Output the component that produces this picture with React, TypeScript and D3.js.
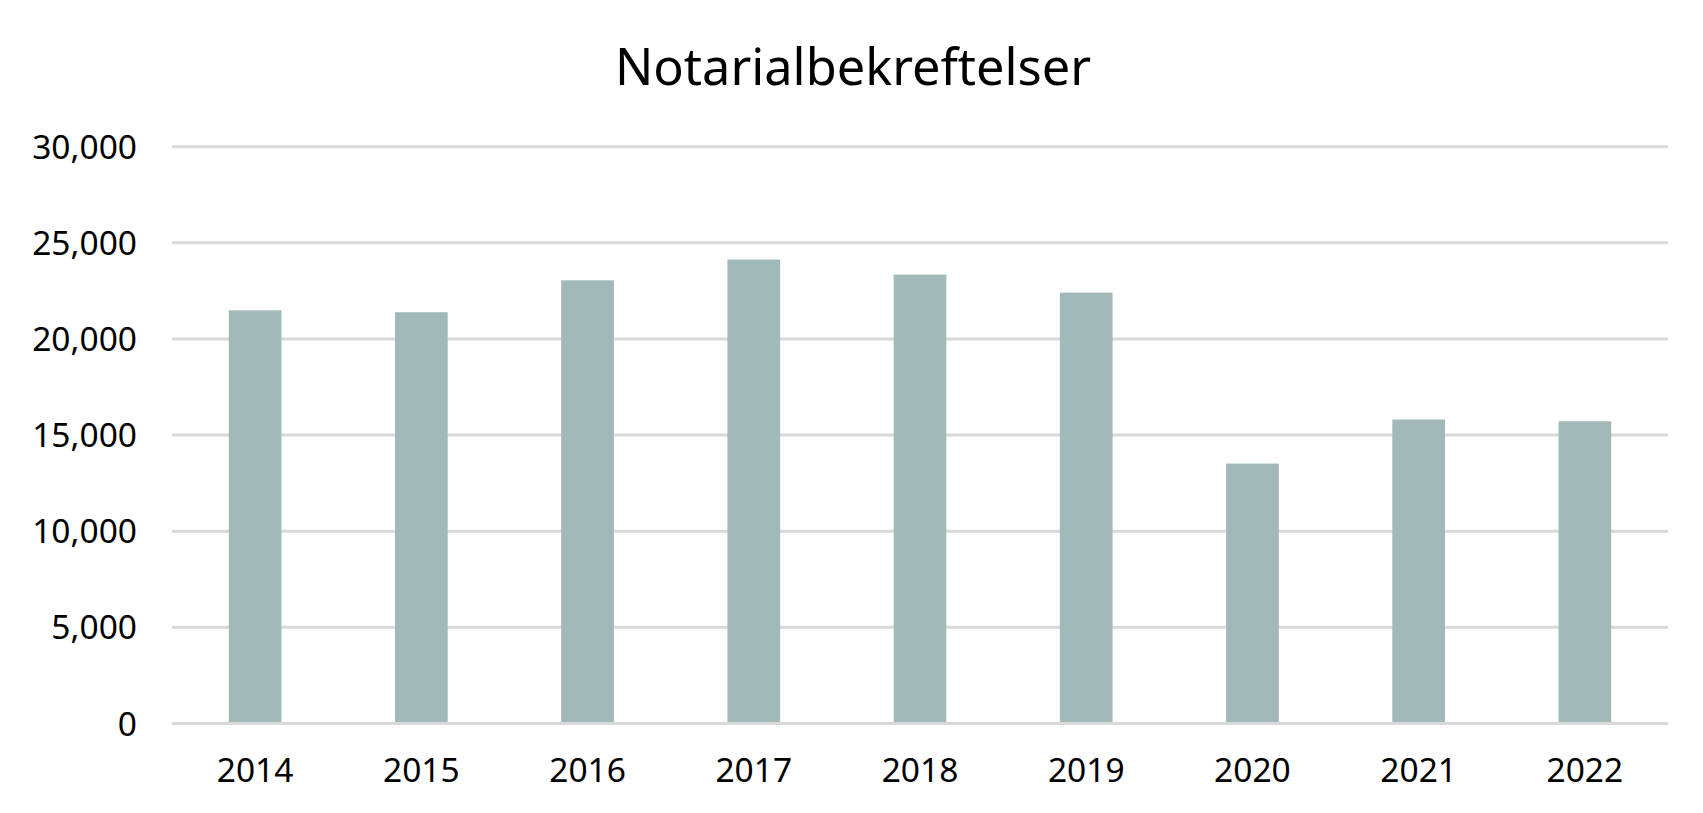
import React from "react";
import * as d3 from "d3";

const title = "Notarialbekreftelser";
const years = ["2014", "2015", "2016", "2017", "2018", "2019", "2020", "2021", "2022"];
const values = [21490, 21390, 23050, 24130, 23350, 22410, 13520, 15810, 15720];
const yTicks = [0, 5000, 10000, 15000, 20000, 25000, 30000];

const W = 1703;
const H = 813;
const left = 172;
const right = 1668;
const top = 146.7;
const bottom = 723.5;
const FONT = "'Noto Sans', 'Open Sans', sans-serif";

export default function App() {
  const x = d3.scaleBand<string>().domain(years).range([left, right]).paddingInner(0.683).paddingOuter(0.3415);
  const y = d3.scaleLinear().domain([0, 30000]).range([bottom, top]);
  const fmt = d3.format(",");
  return (
    <svg
      width={W}
      height={H}
      viewBox={`0 0 ${W} ${H}`}
      style={{ position: "fixed", left: 0, top: 0, background: "#fff" }}
    >
      <rect x={0} y={0} width={W} height={H} fill="#fff" />
      <text x={853} y={85} textAnchor="middle" fontFamily={FONT} fontSize={50.5} fill="#000">
        {title}
      </text>
      {yTicks.map((t) => (
        <g key={t}>
          <line x1={left} x2={right} y1={y(t)} y2={y(t)} stroke="#d9d9d9" strokeWidth={3} />
          <text
            x={137}
            y={y(t)}
            dy="0.36em"
            textAnchor="end"
            fontFamily={FONT}
            fontSize={33.5}
            fill="#000"
          >
            {fmt(t)}
          </text>
        </g>
      ))}
      {years.map((yr, i) => (
        <rect
          key={yr}
          x={x(yr)}
          width={x.bandwidth()}
          y={y(values[i])}
          height={y(0) - y(values[i]) - 1.5}
          fill="#a1b9b9"
        />
      ))}
      {years.map((yr) => (
        <text
          key={yr}
          x={(x(yr) as number) + x.bandwidth() / 2}
          y={782.3}
          textAnchor="middle"
          fontFamily={FONT}
          fontSize={33.5}
          fill="#000"
        >
          {yr}
        </text>
      ))}
    </svg>
  );
}
